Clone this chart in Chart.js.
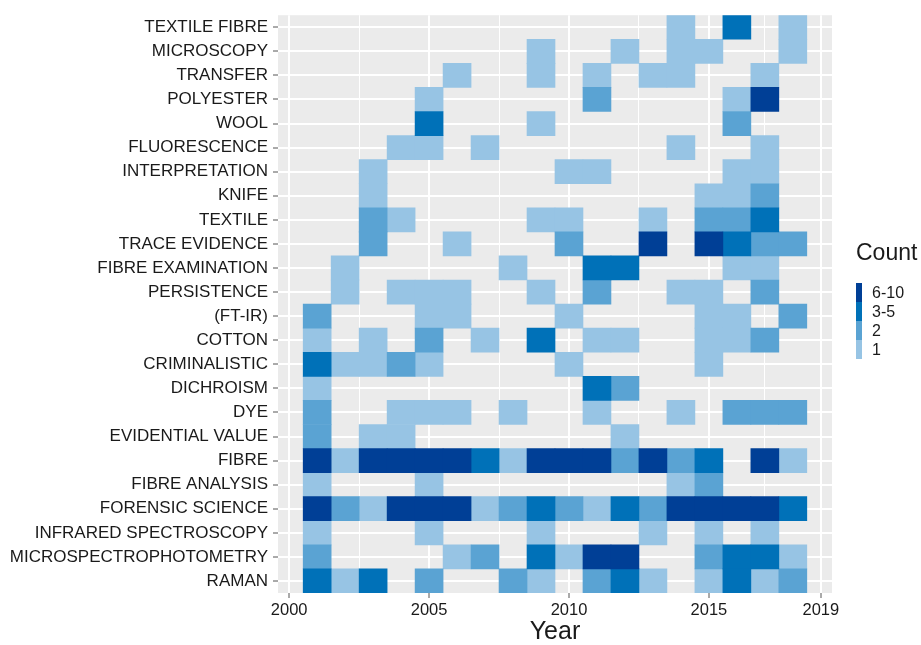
<!DOCTYPE html>
<html>
<head>
<meta charset="utf-8">
<script src="https://cdn.jsdelivr.net/npm/chart.js@4.4.0/dist/chart.umd.min.js"></script>
<style>
  body { margin: 0; background: #fff; }
  canvas { display: block; }
</style>
</head>
<body>
<canvas id="heat" width="921" height="645"></canvas>
<script>
// keywords, top to bottom
const categories = [
  'TEXTILE FIBRE', 'MICROSCOPY', 'TRANSFER', 'POLYESTER', 'WOOL', 'FLUORESCENCE',
  'INTERPRETATION', 'KNIFE', 'TEXTILE', 'TRACE EVIDENCE', 'FIBRE EXAMINATION',
  'PERSISTENCE', '(FT-IR)', 'COTTON', 'CRIMINALISTIC', 'DICHROISM', 'DYE',
  'EVIDENTIAL VALUE', 'FIBRE', 'FIBRE ANALYSIS', 'FORENSIC SCIENCE',
  'INFRARED SPECTROSCOPY', 'MICROSPECTROPHOTOMETRY', 'RAMAN'
];

const years = [2001, 2002, 2003, 2004, 2005, 2006, 2007, 2008, 2009,
               2010, 2011, 2012, 2013, 2014, 2015, 2016, 2017, 2018];

// counts per keyword per year (0 = no tile), same order as categories
const counts = [
  [0,0,0,0,0,0,0,0,0,0,0,0,0,1,0,4,0,1],
  [0,0,0,0,0,0,0,0,1,0,0,1,0,1,1,0,0,1],
  [0,0,0,0,0,1,0,0,1,0,1,0,1,1,0,0,1,0],
  [0,0,0,0,1,0,0,0,0,0,2,0,0,0,0,1,7,0],
  [0,0,0,0,4,0,0,0,1,0,0,0,0,0,0,2,0,0],
  [0,0,0,1,1,0,1,0,0,0,0,0,0,1,0,0,1,0],
  [0,0,1,0,0,0,0,0,0,1,1,0,0,0,0,1,1,0],
  [0,0,1,0,0,0,0,0,0,0,0,0,0,0,1,1,2,0],
  [0,0,2,1,0,0,0,0,1,1,0,0,1,0,2,2,4,0],
  [0,0,2,0,0,1,0,0,0,2,0,0,7,0,7,4,2,2],
  [0,1,0,0,0,0,0,1,0,0,4,4,0,0,0,1,1,0],
  [0,1,0,1,1,1,0,0,1,0,2,0,0,1,1,0,2,0],
  [2,0,0,0,1,1,0,0,0,1,0,0,0,0,1,1,0,2],
  [1,0,1,0,2,0,1,0,4,0,1,1,0,0,1,1,2,0],
  [4,1,1,2,1,0,0,0,0,1,0,0,0,0,1,0,0,0],
  [1,0,0,0,0,0,0,0,0,0,4,2,0,0,0,0,0,0],
  [2,0,0,1,1,1,0,1,0,0,1,0,0,1,0,2,2,2],
  [2,0,1,1,0,0,0,0,0,0,0,1,0,0,0,0,0,0],
  [7,1,7,7,7,7,4,1,7,7,7,2,7,2,4,0,7,1],
  [1,0,0,0,1,0,0,0,0,0,0,0,0,1,2,0,0,0],
  [7,2,1,7,7,7,1,2,4,2,1,4,2,7,7,7,7,4],
  [1,0,0,0,1,0,0,0,1,0,0,0,1,0,1,0,1,0],
  [2,0,0,0,0,1,2,0,4,1,7,7,0,0,2,4,4,1],
  [4,1,4,0,2,0,0,2,1,0,2,4,1,0,1,4,1,2]
];

// legend bins
const binLabels = ['6-10', '3-5', '2', '1'];
const binMin = [6, 3, 2, 1];
const binMax = [10, 5, 2, 1];
const binColors = ['#003f96', '#0071b8', '#5aa3d3', '#97c4e4'];

// x axis
const xTicks = [2000, 2002.5, 2005, 2007.5, 2010, 2012.5, 2015, 2017, 2019];
const xTickLabels = ['2000', '', '2005', '', '2010', '', '2015', '', '2019'];

function buildDatasets() {
  return binLabels.map((lab, b) => {
    const pts = [];
    counts.forEach((row, r) => {
      row.forEach((c, k) => {
        if (c >= binMin[b] && c <= binMax[b]) {
          pts.push({ x: [years[k] - 0.5, years[k] + 0.5], y: categories[r] });
        }
      });
    });
    return {
      label: lab,
      data: pts,
      backgroundColor: binColors[b],
      borderWidth: 0,
      grouped: false,
      categoryPercentage: 1,
      barPercentage: 1
    };
  });
}

const panelAndLegend = {
  id: 'panelAndLegend',
  beforeDraw(chart) {
    const a = chart.chartArea, ctx = chart.ctx;
    ctx.save();
    ctx.fillStyle = '#ebebeb';
    ctx.fillRect(a.left, a.top, a.right - a.left, a.bottom - a.top);
    ctx.restore();
  },
  afterDraw(chart) {
    const ctx = chart.ctx;
    const x0 = 856, y0 = 283, h = 19;
    ctx.save();
    ctx.fillStyle = '#1a1a1a';
    ctx.textBaseline = 'middle';
    ctx.textAlign = 'left';
    ctx.font = '23px "Liberation Sans", Arial, sans-serif';
    ctx.fillText('Count', 856, 254);
    ctx.font = '16px "Liberation Sans", Arial, sans-serif';
    binLabels.forEach((lab, i) => {
      ctx.fillStyle = binColors[i];
      ctx.fillRect(x0, y0 + i * h, 6, h);
      ctx.fillStyle = '#1a1a1a';
      ctx.fillText(lab, 872, y0 + i * h + h / 2 + 1);
    });
    ctx.restore();
  }
};

Chart.defaults.font.family = '"Liberation Sans", Arial, sans-serif';

new Chart(document.getElementById('heat'), {
  type: 'bar',
  data: { labels: categories, datasets: buildDatasets() },
  options: {
    indexAxis: 'y',
    responsive: false,
    animation: false,
    layout: { padding: { top: 11, right: 89, left: 0, bottom: 0 } },
    plugins: { legend: { display: false }, tooltip: { enabled: false } },
    scales: {
      x: {
        type: 'linear',
        min: 1999.6,
        max: 2019.4,
        afterBuildTicks: (s) => { s.ticks = xTicks.map(v => ({ value: v })); },
        afterFit: (s) => { s.height = 52; },
        border: { display: false },
        grid: {
          color: '#ffffff',
          lineWidth: (c) => (xTickLabels[c.index] ? 2 : 1),
          tickLength: 5,
          tickColor: (c) => (xTickLabels[c.index] ? '#555' : 'rgba(0,0,0,0)'),
          tickWidth: 1
        },
        ticks: {
          autoSkip: false,
          maxRotation: 0,
          padding: 3,
          color: '#1a1a1a',
          font: { size: 16.5 },
          callback: (v, i) => xTickLabels[i]
        },
        title: {
          display: true,
          text: 'Year',
          color: '#1a1a1a',
          font: { size: 25, lineHeight: 1 },
          padding: { top: 0, bottom: 0 }
        }
      },
      y: {
        type: 'category',
        offset: true,
        afterFit: (s) => { s.width = 278; },
        border: { display: false },
        grid: {
          offset: false,
          color: '#ffffff',
          lineWidth: 2,
          tickLength: 5,
          tickColor: '#555',
          tickWidth: 1
        },
        ticks: {
          autoSkip: false,
          padding: 5,
          color: '#1a1a1a',
          font: { size: 17 }
        }
      }
    }
  },
  plugins: [panelAndLegend]
});
</script>
</body>
</html>
